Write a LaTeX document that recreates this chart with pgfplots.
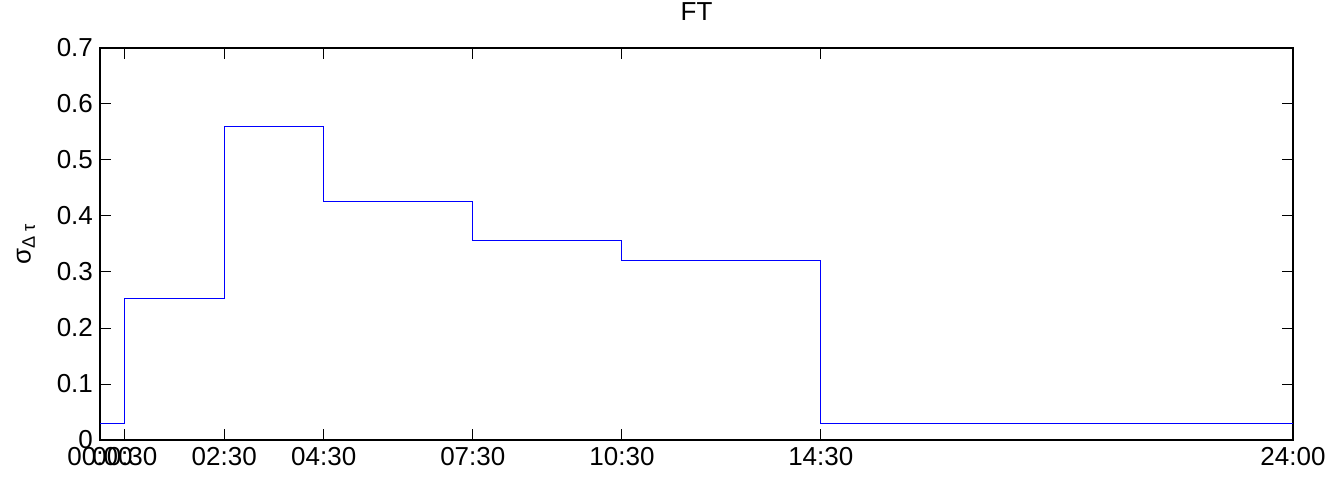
\documentclass[border=0pt]{standalone}
\usepackage{pgfplots}
\pgfplotsset{compat=1.18}
\usepackage{fontspec}
\setmainfont{Liberation Sans}
\begin{document}
\begin{tikzpicture}
\path[use as bounding box] (-50pt,-21pt) rectangle (615.5pt,220pt);
\begin{axis}[
  scale only axis,
  at={(0,0)}, anchor=south west,
  width=596.5pt, height=196pt,
  xmin=0, xmax=24, ymin=0, ymax=0.7,
  xtick={0,0.5,2.5,4.5,7.5,10.5,14.5,24},
  xticklabels={00:00,00:30,02:30,04:30,07:30,10:30,14:30,24:00},
  ytick={0,0.1,0.2,0.3,0.4,0.5,0.6,0.7},
  yticklabels={0,0.1,0.2,0.3,0.4,0.5,0.6,0.7},
  tick align=inside,
  major tick length=5.3pt,
  tick style={black, line width=0.5pt},
  axis line style={black, line width=0.6pt},
  ticklabel style={font=\fontsize{13}{15}\selectfont},
  clip=false,
  ylabel={σ\textsubscript{Δ τ}},
  ylabel style={font=\fontsize{13}{15}\selectfont},
  every axis y label/.append style={at={(axis description cs:0,0.5)}, anchor=center, yshift=37pt},
  /pgf/number format/assume math mode=true,
]
\addplot[const plot, color={rgb,255:red,0;green,0;blue,255}, line width=0.5pt] coordinates {
(0,0.03) (0.5,0.253) (2.5,0.56) (4.5,0.426) (7.5,0.356) (10.5,0.32) (14.5,0.03) (24,0.03)
};
\node[font=\fontsize{13}{15}\selectfont, anchor=center, yshift=18pt] at (rel axis cs:0.5,1) {FT};
\end{axis}
\end{tikzpicture}
\end{document}
